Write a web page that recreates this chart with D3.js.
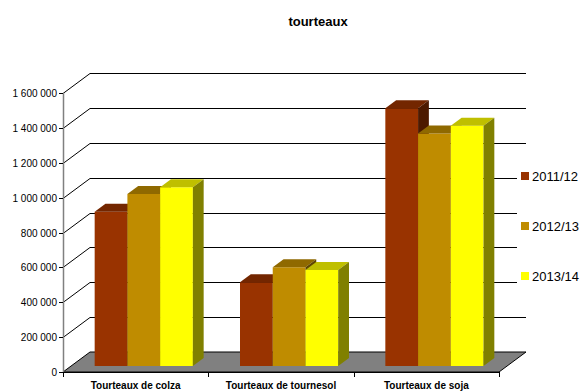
<!DOCTYPE html>
<html>
<head>
<meta charset="utf-8">
<script src="https://cdn.jsdelivr.net/npm/d3@7"></script>
<style>
  html, body { margin: 0; padding: 0; background: #fff; }
  svg { display: block; font-family: "Liberation Sans", Arial, sans-serif; }
</style>
</head>
<body>
<svg id="chart" width="584" height="392"></svg>
<script>
// Tourteaux : volumes par campagne
const categories = ["Tourteaux de colza", "Tourteaux de tournesol", "Tourteaux de soja"];
const seriesNames = ["2011/12", "2012/13", "2013/14"];
const values2011 = [885000, 480000, 1478000];
const values2012 = [986000, 566000, 1334000];
const values2013 = [1025000, 550000, 1378000];
const yTicks = [0, 200000, 400000, 600000, 800000, 1000000, 1200000, 1400000, 1600000];
const colors = ["#993300", "#BF8C00", "#FFFF00"];

const seriesValues = [values2011, values2012, values2013];

const svg = d3.select("#chart");

// oblique depth of the 3D box
const DX = 27, DY = 20;
const D0 = 0.3, D1 = 0.7;   // bar depth span inside the box

const plotLeft = 63, plotRight = 499, plotBottom = 372, plotTop = 93;

const y = d3.scaleLinear().domain([0, 1600000]).range([plotBottom, plotTop]);
const x = d3.scaleBand().domain(categories).range([plotLeft, plotRight]);
const sub = d3.scaleBand().domain(seriesNames).range([0, x.bandwidth()]).paddingOuter(0.72);

const fmt = d3.formatLocale({ decimal: ",", thousands: "\u00a0", grouping: [3], currency: ["", " €"] }).format(",d");

// title
svg.append("text")
  .attr("x", 318).attr("y", 26)
  .attr("text-anchor", "middle")
  .attr("font-size", 13).attr("font-weight", "bold")
  .text("tourteaux");

// floor
const floor = [[plotLeft, plotBottom], [plotRight, plotBottom], [plotRight + DX, plotBottom - DY], [plotLeft + DX, plotBottom - DY]];
svg.append("path")
  .attr("d", d3.line()(floor) + "Z")
  .attr("fill", "#808080").attr("stroke", "#000").attr("stroke-width", 1);

// side wall + back wall gridlines
const grid = svg.append("g").attr("fill", "none").attr("stroke", "#000").attr("stroke-width", 1);
yTicks.filter(t => t > 0).forEach(t => {
  const yy = Math.round(y(t)) + 0.5;
  grid.append("path").attr("d", d3.line()([[plotLeft, yy], [plotLeft + DX, yy - DY], [plotRight + DX, yy - DY]]));
});

// legend background sits over the wall
svg.append("rect").attr("x", 517).attr("y", 158).attr("width", 67).attr("height", 136).attr("fill", "#fff");

// value axis
const yAxis = svg.append("g");
yAxis.append("line")
  .attr("x1", plotLeft + 0.5).attr("x2", plotLeft + 0.5)
  .attr("y1", y(1600000)).attr("y2", plotBottom)
  .attr("stroke", "#808080").attr("stroke-width", 1.5);
yTicks.forEach(t => {
  const yy = Math.round(y(t)) + 0.5;
  yAxis.append("line").attr("x1", plotLeft - 4).attr("x2", plotLeft).attr("y1", yy).attr("y2", yy)
    .attr("stroke", "#000");
  yAxis.append("text")
    .attr("x", plotLeft - 6).attr("y", yy + 3.5)
    .attr("text-anchor", "end").attr("font-size", 10)
    .text(fmt(t));
});

// category axis
const xAxis = svg.append("g");
xAxis.append("line").attr("x1", plotLeft).attr("x2", plotRight).attr("y1", plotBottom + 0.5).attr("y2", plotBottom + 0.5)
  .attr("stroke", "#000");
[...categories.map(c => x(c)), plotRight].forEach(px => {
  xAxis.append("line").attr("x1", Math.round(px) + 0.5).attr("x2", Math.round(px) + 0.5)
    .attr("y1", plotBottom).attr("y2", plotBottom + 5).attr("stroke", "#000");
});
categories.forEach(c => {
  xAxis.append("text")
    .attr("x", x(c) + x.bandwidth() / 2).attr("y", 389)
    .attr("text-anchor", "middle").attr("font-size", 10).attr("font-weight", "bold")
    .text(c);
});

// 3D bars, drawn left to right so each bar hides its neighbour's side
const shade = (c, k) => { const r = d3.rgb(c); return d3.rgb(r.r * k, r.g * k, r.b * k).toString(); };
const bars = svg.append("g");
categories.forEach((c, ci) => {
  seriesNames.forEach((s, si) => {
    const v = seriesValues[si][ci];
    const x0 = x(c) + sub(s) + D0 * DX;
    const x1 = x0 + sub.bandwidth();
    const yb = y(0) - D0 * DY;
    const yt = y(v) - D0 * DY;
    const ddx = (D1 - D0) * DX, ddy = (D1 - D0) * DY;
    const g = bars.append("g");
    g.append("path").attr("d", d3.line()([[x0, yb], [x1, yb], [x1, yt], [x0, yt]]) + "Z")
      .attr("fill", colors[si]);
    g.append("path").attr("d", d3.line()([[x0, yt], [x1, yt], [x1 + ddx, yt - ddy], [x0 + ddx, yt - ddy]]) + "Z")
      .attr("fill", shade(colors[si], 0.75));
    g.append("path").attr("d", d3.line()([[x1, yb], [x1 + ddx, yb - ddy], [x1 + ddx, yt - ddy], [x1, yt]]) + "Z")
      .attr("fill", shade(colors[si], 0.5));
  });
});

// legend
const legend = svg.append("g");
seriesNames.forEach((s, i) => {
  const cy = 176 + i * 50;
  legend.append("rect").attr("x", 521).attr("y", cy - 4).attr("width", 8).attr("height", 8)
    .attr("fill", colors[i]);
  legend.append("text").attr("x", 532).attr("y", cy + 4.5)
    .attr("font-size", 13).text(s);
});
</script>
</body>
</html>
